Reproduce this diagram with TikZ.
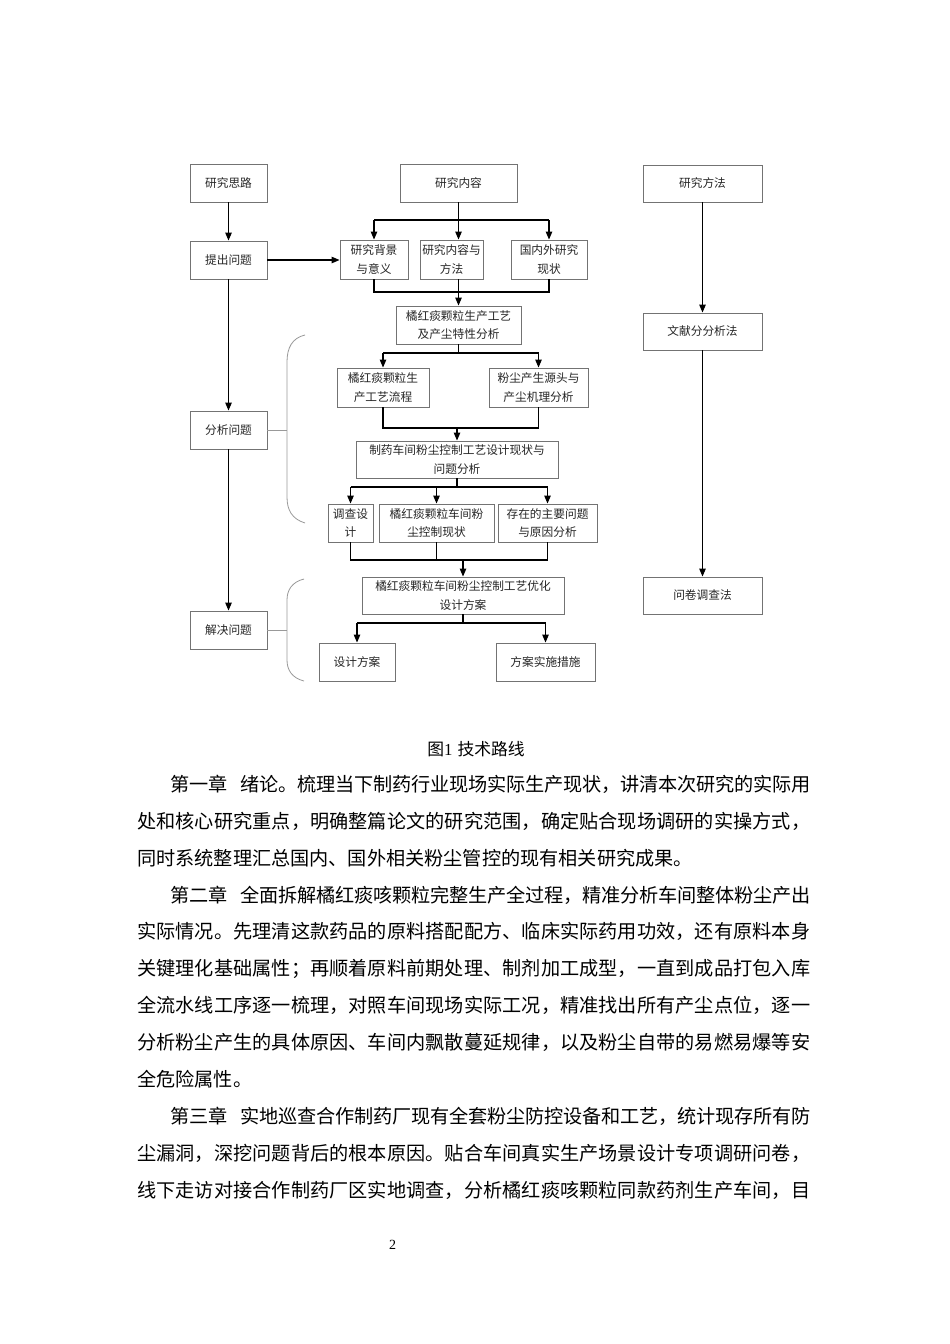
\documentclass[tikz,border=0pt]{standalone}
\usepackage{fontspec}
\setmainfont{Noto Sans CJK SC}
\newfontfamily\lat{Liberation Serif}
\usetikzlibrary{arrows.meta}
\newcommand\jline[2]{\hbox to #1{\jfirst#2\relax}}
\def\jfirst#1{#1\jrest}
\def\jrest#1{\ifx#1\relax\else\hskip 0pt plus 1fil minus 0.5pt #1\expandafter\jrest\fi}
\newcommand\jsp{\hskip 0.9em minus 0.5em\relax}
\tikzset{
  box/.style={draw=black!55, line width=0.9pt, inner sep=0pt, align=center,
    text=black!85, font=\fontsize{11.7}{18.5}\selectfont},
  ln/.style={line width=1.1pt, draw=black},
  arr/.style={ln, -{Triangle[length=8pt,width=6.5pt]}},
  brc/.style={line width=0.8pt, draw=black!40},
  body/.style={anchor=base west, inner sep=0pt, text=black, font=\fontsize{19.16}{23}\selectfont}
}
\begin{document}
\begin{tikzpicture}[x=1pt,y=-1pt]
\useasboundingbox[fill=white] (0,0) rectangle (950,1344);
% left column
\node[box, minimum width=77pt, minimum height=38pt] (rs) at (228.5,183) {研究思路};
\node[box, minimum width=77pt, minimum height=38pt] (tc) at (228.5,260) {提出问题};
\node[box, minimum width=77pt, minimum height=38pt] (fx) at (228.5,430) {分析问题};
\node[box, minimum width=77pt, minimum height=38pt] (jj) at (228.5,630) {解决问题};
% right column
\node[box, minimum width=119pt, minimum height=37pt] (ff) at (702.5,183.5) {研究方法};
\node[box, minimum width=119pt, minimum height=37pt] (wx) at (702.5,331.5) {文献分分析法};
\node[box, minimum width=119pt, minimum height=37pt] (wj) at (702.5,595.5) {问卷调查法};
% middle column
\node[box, minimum width=117pt, minimum height=38pt] (nr) at (458.5,183) {研究内容};
\node[box, minimum width=68pt, minimum height=39pt] (b1) at (374,259.5) {研究背景\\与意义};
\node[box, minimum width=63pt, minimum height=39pt] (b2) at (451.5,259.5) {研究内容与\\方法};
\node[box, minimum width=76pt, minimum height=39pt] (b3) at (549,259.5) {国内外研究\\现状};
\node[box, minimum width=125pt, minimum height=38pt] (c1) at (458.5,325) {橘红痰颗粒生产工艺\\及产尘特性分析};
\node[box, minimum width=92pt, minimum height=39pt] (d1) at (383,387.5) {橘红痰颗粒生\\产工艺流程};
\node[box, minimum width=99pt, minimum height=39pt] (d2) at (538.5,387.5) {粉尘产生源头与\\产尘机理分析};
\node[box, minimum width=202pt, minimum height=37pt] (e1) at (457,459.5) {制药车间粉尘控制工艺设计现状与\\问题分析};
\node[box, minimum width=45pt, minimum height=38pt] (f1) at (350.5,523) {调查设\\计};
\node[box, minimum width=115pt, minimum height=38pt] (f2) at (436.5,523) {橘红痰颗粒车间粉\\尘控制现状};
\node[box, minimum width=99pt, minimum height=38pt] (f3) at (547.5,523) {存在的主要问题\\与原因分析};
\node[box, minimum width=202pt, minimum height=37pt] (g1) at (463,595.5) {橘红痰颗粒车间粉尘控制工艺优化\\设计方案};
\node[box, minimum width=76pt, minimum height=38pt] (h1) at (357,662) {设计方案};
\node[box, minimum width=99pt, minimum height=38pt] (h2) at (545.5,662) {方案实施措施};
% bus coordinates
\coordinate (bus1) at (0,220);
\coordinate (bus2) at (0,292);
\coordinate (bus3) at (0,353);
\coordinate (bus4) at (0,428);
\coordinate (bus5) at (0,487);
\coordinate (bus6) at (0,560);
\coordinate (bus7) at (0,623);
% left arrows
\draw[arr] (rs) -- (tc);
\draw[arr] (tc) -- (fx);
\draw[arr] (fx) -- (jj);
\draw[arr] (tc.east) -- (b1.west |- tc.east);
% right arrows
\draw[arr] (ff) -- (wx);
\draw[arr] (wx) -- (wj);
% split 1
\draw[ln] (nr.south) -- (nr.south |- bus1);
\draw[ln] (b1.north |- bus1) -- (b3.north |- bus1);
\draw[arr] (b1.north |- bus1) -- (b1.north);
\draw[arr] (nr.south |- bus1) -- (nr.south |- b2.north);
\draw[arr] (b3.north |- bus1) -- (b3.north);
% merge 1
\draw[ln] (b1.south) -- (b1.south |- bus2) -- (b3.south |- bus2) -- (b3.south);
\draw[ln] (nr.south |- b2.south) -- (nr.south |- bus2);
\draw[arr] (c1.north |- bus2) -- (c1.north);
% split 2
\draw[ln] (c1.south) -- (c1.south |- bus3);
\draw[ln] (d1.north |- bus3) -- (d2.north |- bus3);
\draw[arr] (d1.north |- bus3) -- (d1.north);
\draw[arr] (d2.north |- bus3) -- (d2.north);
% merge 2
\draw[ln] (d1.south) -- (d1.south |- bus4) -- (d2.south |- bus4) -- (d2.south);
\draw[arr] (e1.north |- bus4) -- (e1.north);
% split 3
\draw[ln] (e1.south) -- (e1.south |- bus5);
\draw[ln] (f1.north |- bus5) -- (f3.north |- bus5);
\draw[arr] (f1.north |- bus5) -- (f1.north);
\draw[arr] (f2.north |- bus5) -- (f2.north);
\draw[arr] (f3.north |- bus5) -- (f3.north);
% merge 3
\draw[ln] (f1.south) -- (f1.south |- bus6) -- (f3.south |- bus6) -- (f3.south);
\draw[ln] (f2.south) -- (f2.south |- bus6);
\draw[arr] (g1.north |- bus6) -- (g1.north);
% split 4
\draw[ln] (g1.south) -- (g1.south |- bus7);
\draw[ln] (h1.north |- bus7) -- (h2.north |- bus7);
\draw[arr] (h1.north |- bus7) -- (h1.north);
\draw[arr] (h2.north |- bus7) -- (h2.north);
% braces
\coordinate (k1) at (287,430);
\coordinate (k2) at (287,630);
\draw[brc] (fx.east) -- (k1);
\draw[brc] (jj.east) -- (k2);
\draw[brc] (305,335) .. controls (292,338) and (287,348) .. (287,362) -- (287,497) .. controls (287,510) and (292,519) .. (305,523);
\draw[brc] (304,579) .. controls (292,582) and (287,590) .. (287,600) -- (287,660) .. controls (287,670) and (292,678) .. (304,681);
% caption
\node[inner sep=0pt, font=\fontsize{16.8}{20}\selectfont] (cap) at (476,749) {图{\lat 1}\hspace{0.3em}技术路线};
% body text
\node[body] (l1) at (170,791.3) {\jline{640pt}{第一章\jsp 绪论。梳理当下制药行业现场实际生产现状，讲清本次研究的实际用}};
\node[body] (l2) at (137,828.2) {\jline{673pt}{处和核心研究重点，明确整篇论文的研究范围，确定贴合现场调研的实操方式，}};
\node[body] (l3) at (137,865.1) {同时系统整理汇总国内、国外相关粉尘管控的现有相关研究成果。};
\node[body] (l4) at (170,902.0) {\jline{640pt}{第二章\jsp 全面拆解橘红痰咳颗粒完整生产全过程，精准分析车间整体粉尘产出}};
\node[body] (l5) at (137,938.9) {\jline{673pt}{实际情况。先理清这款药品的原料搭配配方、临床实际药用功效，还有原料本身}};
\node[body] (l6) at (137,975.8) {\jline{673pt}{关键理化基础属性；再顺着原料前期处理、制剂加工成型，一直到成品打包入库}};
\node[body] (l7) at (137,1012.7) {\jline{673pt}{全流水线工序逐一梳理，对照车间现场实际工况，精准找出所有产尘点位，逐一}};
\node[body] (l8) at (137,1049.6) {\jline{673pt}{分析粉尘产生的具体原因、车间内飘散蔓延规律，以及粉尘自带的易燃易爆等安}};
\node[body] (l9) at (137,1086.5) {全危险属性。};
\node[body] (l10) at (170,1123.4) {\jline{640pt}{第三章\jsp 实地巡查合作制药厂现有全套粉尘防控设备和工艺，统计现存所有防}};
\node[body] (l11) at (137,1160.3) {\jline{673pt}{尘漏洞，深挖问题背后的根本原因。贴合车间真实生产场景设计专项调研问卷，}};
\node[body] (l12) at (137,1197.2) {\jline{673pt}{线下走访对接合作制药厂区实地调查，分析橘红痰咳颗粒同款药剂生产车间，目}};
% page number
\node[inner sep=0pt, font=\lat\fontsize{14}{16}\selectfont] (pg) at (392.7,1245) {2};
\end{tikzpicture}
\end{document}
